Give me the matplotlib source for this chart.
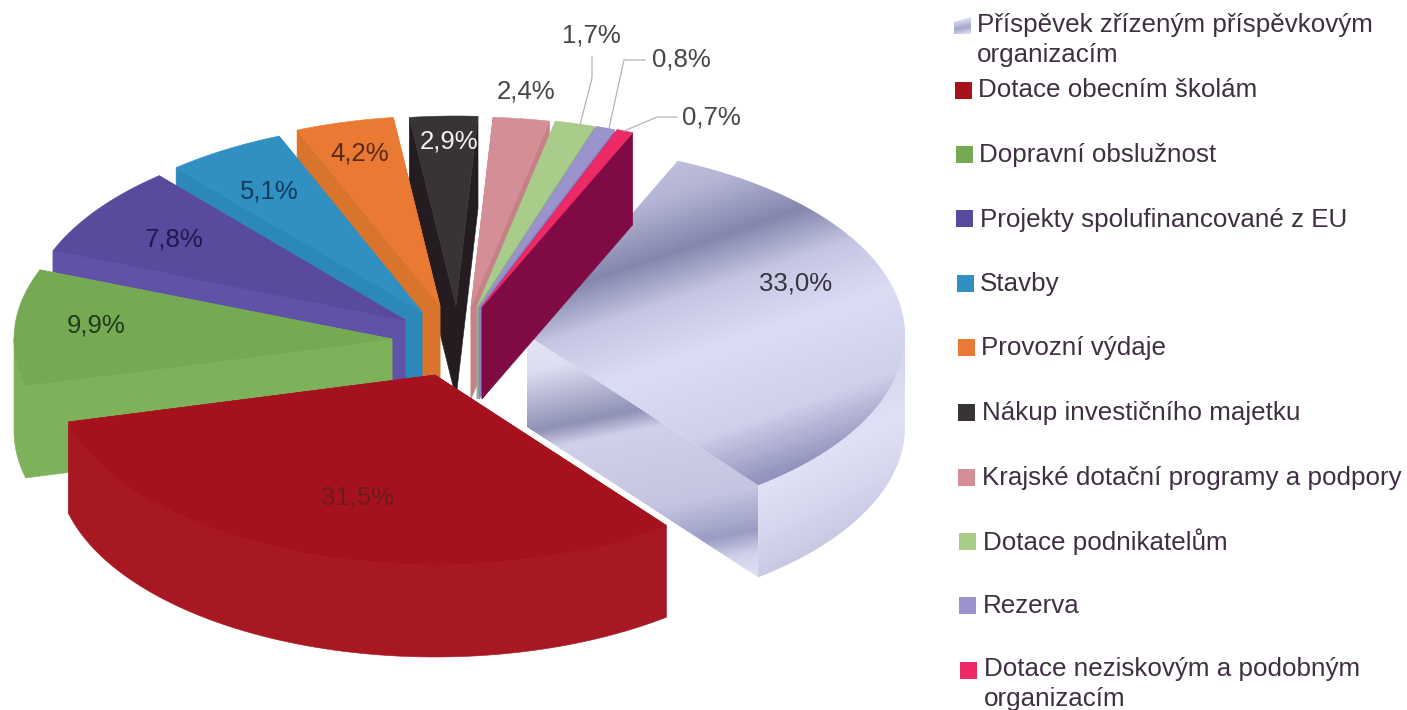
import numpy as np
import matplotlib
matplotlib.use("Agg")
import matplotlib.pyplot as plt
from matplotlib.patches import Polygon
from matplotlib.colors import LinearSegmentedColormap

plt.rcParams['font.family'] = ['Liberation Sans', 'DejaVu Sans']

names = ["Příspěvek zřízeným příspěvkovým\norganizacím", "Dotace obecním školám", "Dopravní obslužnost",
	"Projekty spolufinancované z EU", "Stavby", "Provozní výdaje", "Nákup investičního majetku",
	"Krajské dotační programy a podpory", "Dotace podnikatelům", "Rezerva",
	"Dotace neziskovým a podobným\norganizacím"]
values = [33.0, 31.5, 9.9, 7.8, 5.1, 4.2, 2.9, 2.4, 1.7, 0.8, 0.7]

top_colors = ["#c8c8e4", "#a5121d", "#76aa52", "#5a4a9e", "#3190c2", "#ea7a33", "#383334", "#d48e96", "#a9cc8a", "#9a93cc", "#ee2a66"]
wall_colors = ["#c8c8e4", "#a81822", "#7db25a", "#5f52a8", "#2c88ba", "#d9742d", "#241c20", "#c77f88", "#8fb87a", "#8a84c0", "#7f0a44"]
label_colors = ["#38323f", "#6e1a1c", "#1f3a1c", "#1c1a50", "#143a5c", "#5a2a14", "#f4f2f4", "#4a4448", "#4a4448", "#4a4448", "#4a4448"]

# where each exploded slice has its tip, in pixels
tips_x = [527, 435, 392, 405, 422, 440, 456, 471, 477, 479, 482]
tips_y = [335, 375, 339, 320, 312, 306, 306, 307, 307, 307, 307]
label_x = [796, 358, 96, 174, 269, 360, 449, 526, 591, 681, 711]
label_y = [284, 498, 325, 240, 191, 154, 141, 91, 35, 60, 117]
legend_y = [13, 90, 155, 220, 284, 348, 413, 478, 542, 606, 657]
legend_x = [977, 978, 979, 980, 980, 981, 982, 982, 983, 983, 984]
swatch_x = [954, 955, 956, 956, 957, 958, 958, 958, 959, 959, 960]
swatch_y = [26, 90, 154, 218, 283, 347, 412, 477, 541, 605, 670]

rx, ry = 378, 190
depth = 92
start = 23.5
draw_order = [6, 7, 8, 9, 10, 5, 4, 3, 2, 0, 1]

fig = plt.figure(figsize=(14.07, 7.10), dpi=100)
ax = fig.add_axes([0, 0, 1, 1])
ax.set_axis_off()


def rim(cx, cy, a0, a1, dy=0):
	a = np.radians(np.linspace(a0, a1, 80))
	return np.column_stack([cx + rx * np.sin(a), cy - ry * np.cos(a) + dy])


def gradient_fill(points, normal, tvals, colors):
	# metallic bands: colour runs along one direction and is clipped to the shape
	lo, hi = tvals[0], tvals[-1]
	cmap = LinearSegmentedColormap.from_list("m", [((t - lo) / (hi - lo), c) for t, c in zip(tvals, colors)])
	x0, y0 = points.min(axis=0)
	x1, y1 = points.max(axis=0)
	xx, yy = np.meshgrid(np.arange(x0, x1 + 1), np.arange(y0, y1 + 1))
	t = xx * normal[0] + yy * normal[1]
	poly = Polygon(points, closed=True, fc="none", ec="none")
	ax.add_patch(poly)
	im = ax.imshow(t, cmap=cmap, vmin=lo, vmax=hi, extent=(x0, x1, y1, y0), aspect="auto", interpolation="bilinear")
	im.set_clip_path(poly)


bounds = start + np.concatenate([[0], np.cumsum(values)]) * 3.6

for i in draw_order:
	a0, a1 = bounds[i], bounds[i + 1]
	cx, cy = tips_x[i], tips_y[i]
	arc = rim(cx, cy, a0, a1)
	tip = np.array([[cx, cy]])
	tip_low = np.array([[cx, cy + depth]])
	top = np.vstack([tip, arc])

	side_a = np.vstack([tip, arc[:1], arc[:1] + [0, depth], tip_low])
	side_b = np.vstack([tip, arc[-1:], arc[-1:] + [0, depth], tip_low])
	f0, f1 = max(a0, 90), min(a1, 270)
	front = None
	if f1 > f0:
		fa = rim(cx, cy, f0, f1)
		front = np.vstack([fa, fa[::-1] + [0, depth]])

	if i == 0:
		gradient_fill(side_b, (0.2, 0.98),
			[430, 470, 510, 530, 550, 630, 672, 695, 730],
			["#e6e6f6", "#dedef2", "#a8aac8", "#8f91b6", "#d0d0ea", "#c4c5e0", "#9a9cc4", "#d2d3ea", "#e8e8f8"])
		gradient_fill(front, (0.45, 0.89),
			[700, 776, 820, 880],
			["#d0d1ea", "#e0e1f6", "#d6d7ee", "#bfc0dc"])
		gradient_fill(top, (0.32, 0.946),
			[340, 400, 454, 500, 560, 640, 696, 720],
			["#c8c8e2", "#b4b5d4", "#8486ad", "#c5c6e2", "#dcdcf5", "#cfd0ea", "#9596bf", "#8f90ba"])
	else:
		ax.add_patch(Polygon(side_a, closed=True, fc=wall_colors[i], ec=wall_colors[i], lw=0.4))
		ax.add_patch(Polygon(side_b, closed=True, fc=wall_colors[i], ec=wall_colors[i], lw=0.4))
		if front is not None:
			ax.add_patch(Polygon(front, closed=True, fc=wall_colors[i], ec=wall_colors[i], lw=0.4))
		ax.add_patch(Polygon(top, closed=True, fc=top_colors[i], ec=top_colors[i], lw=0.4))

# leader lines of the three thinnest labels
ax.plot([592, 592, 580], [57, 78, 125], color="#b5b5b5", lw=0.9)
ax.plot([645, 624, 609], [60, 60, 128], color="#b5b5b5", lw=0.9)
ax.plot([677, 657, 624], [117, 117, 131], color="#b5b5b5", lw=0.9)

for i, v in enumerate(values):
	ax.text(label_x[i], label_y[i], f"{v:.1f}%".replace(".", ","), color=label_colors[i], fontsize=18.5, ha="center", va="center")

for i, name in enumerate(names):
	s = 17
	sx, sy = swatch_x[i], swatch_y[i]
	if i == 0:
		sw = np.array([[sx, sy - 4], [sx + s, sy - 9], [sx + s, sy + 8], [sx, sy + 8]])
		gradient_fill(sw, (0.2, 0.98), [sy + 186, sy + 194, sy + 201, sy + 209],
			["#d8d8ee", "#a5a7cc", "#dedef4", "#b4b6d6"])
	else:
		ax.add_patch(Polygon([[sx, sy - s / 2], [sx + s, sy - s / 2], [sx + s, sy + s / 2], [sx, sy + s / 2]],
			closed=True, fc=top_colors[i], ec="none"))
	ax.text(legend_x[i], legend_y[i], name, color="#3e3040", fontsize=18.7, ha="left", va="top" if "\n" in name else "center",
		linespacing=1.34)

ax.set_xlim(0, 1407)
ax.set_ylim(710, 0)
fig.savefig("out.png", dpi=100)
